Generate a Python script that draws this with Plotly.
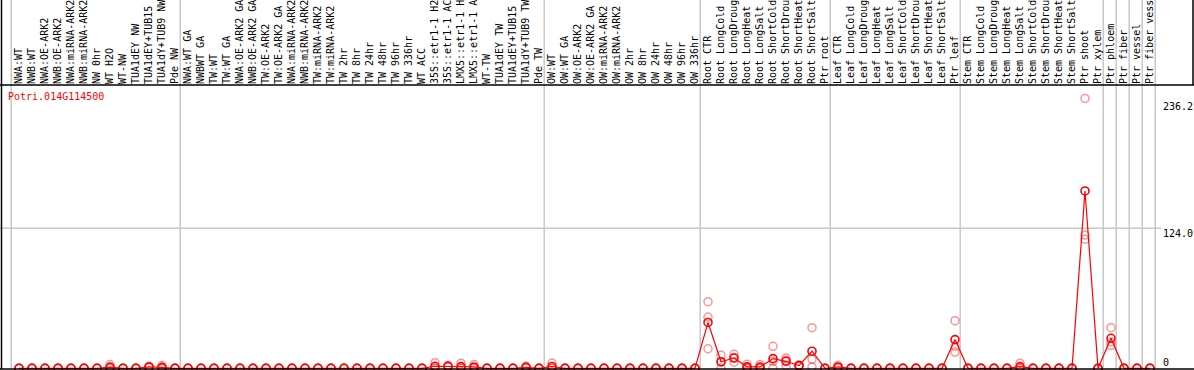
import plotly.graph_objects as go

categories = [
    "NWA:WT", "NWB:WT", "NWA:OE-ARK2", "NWB:OE-ARK2", "NWA:miRNA-ARK2", "NWB:miRNA-ARK2",
    "NW 0hr", "WT H2O", "WT-NW", "TUA1dEY NW", "TUA1dEY+TUB15 NW", "TUA1dY+TUB9 NW", "Pde NW",
    "NWA:WT GA", "NWBWT GA", "TW:WT", "TW:WT GA", "NWA:OE-ARK2 GA", "NWB:OE-ARK2 GA",
    "TW:OE-ARK2", "TW:OE-ARK2 GA", "NWA:miRNA-ARK2 GA", "NWB:miRNA-ARK2 GA", "TW:miRNA-ARK2",
    "TW:miRNA-ARK2 GA", "TW 2hr", "TW 8hr", "TW 24hr", "TW 48hr", "TW 96hr", "TW 336hr",
    "WT ACC", "35S::etr1-1 H2O", "35S::etr1-1 ACC", "LMX5::etr1-1 H2O", "LMX5::etr1-1 ACC",
    "WT-TW", "TUA1dEY TW", "TUA1dEY+TUB15 TW", "TUA1dY+TUB9 TW", "Pde TW",
    "OW:WT", "OW:WT GA", "OW:OE-ARK2", "OW:OE-ARK2 GA", "OW:miRNA-ARK2", "OW:miRNA-ARK2 GA",
    "OW 2hr", "OW 8hr", "OW 24hr", "OW 48hr", "OW 96hr", "OW 336hr",
    "Root CTR", "Root LongCold", "Root LongDrought", "Root LongHeat", "Root LongSalt",
    "Root ShortCold", "Root ShortDrought", "Root ShortHeat", "Root ShortSalt", "Ptr root",
    "Leaf CTR", "Leaf LongCold", "Leaf LongDrought", "Leaf LongHeat", "Leaf LongSalt",
    "Leaf ShortCold", "Leaf ShortDrought", "Leaf ShortHeat", "Leaf ShortSalt", "Ptr leaf",
    "Stem CTR", "Stem LongCold", "Stem LongDrought", "Stem LongHeat", "Stem LongSalt",
    "Stem ShortCold", "Stem ShortDrought", "Stem ShortHeat", "Stem ShortSalt",
    "Ptr shoot", "Ptr xylem", "Ptr phloem", "Ptr fiber", "Ptr vessel", "Ptr fiber vessel",
]

# mean expression
mean_values = [
    0, 0, 0, 0, 0, 0, 0, 1.1, 0, 0, 1.2, 0.8, 0,
    0, 0, 0, 0, 0, 0, 0, 0, 0, 0, 0, 0, 0, 0, 0, 0, 0, 0,
    0, 1.8, 1.8, 1.5, 1.2, 0, 0, 0, 0.9, 0,
    1.6, 0, 0, 0, 0, 0, 0, 0, 0, 0, 0, 0,
    40.6, 5.8, 9.1, 1.3, 1.2, 8.6, 6.2, 2.4, 15.1, 0,
    1.2, 0, 0, 0, 0, 0, 0, 0, 0, 25.4,
    0, 0, 0, 0, 1.5, 0, 0, 0, 0,
    157.1, 0, 26.6, 0, 0, 0,
]

# replicate values
rep1 = [
    0, 0, 0, 0, 0, 0, 0, 3.3, 0, 0, 1.8, 2.4, 0,
    0, 0, 0, 0, 0, 0, 0, 0, 0, 0, 0, 0, 0, 0, 0, 0, 0, 0,
    0, 5.0, 2.7, 4.5, 3.3, 0, 0, 0, 2.0, 0,
    4.7, 0, 0, 0, 0, 0, 0, 0, 0, 0, 0, 0,
    59.0, 11.5, 12.4, 3.6, 3.3, 19.5, 9.1, 3.0, 36.0, 0,
    2.7, 0, 0, 0, 0, 0, 0, 0, 0, 42.2,
    0, 0, 0, 0, 4.5, 0, 0, 0, 0,
    239.0, 0, 36.0, 0, 0, 0,
]
rep2 = [
    0, 0, 0, 0, 0, 0, 0, 0, 0, 0, 1.2, 0, 0,
    0, 0, 0, 0, 0, 0, 0, 0, 0, 0, 0, 0, 0, 0, 0, 0, 0, 0,
    0, 0.3, 1.6, 0, 0.3, 0, 0, 0, 0.6, 0,
    0, 0, 0, 0, 0, 0, 0, 0, 0, 0, 0, 0,
    45.4, 5.6, 9.5, 0.2, 0.3, 6.2, 7.2, 2.4, 8.0, 0,
    0.6, 0, 0, 0, 0, 0, 0, 0, 0, 19.5,
    0, 0, 0, 0, 0, 0, 0, 0, 0,
    118.0, 0, 23.3, 0, 0, 0,
]
rep3 = [
    0, 0, 0, 0, 0, 0, 0, 0, 0, 0, 0.6, 0, 0,
    0, 0, 0, 0, 0, 0, 0, 0, 0, 0, 0, 0, 0, 0, 0, 0, 0, 0,
    0, 0, 1.1, 0, 0, 0, 0, 0, 0, 0,
    0, 0, 0, 0, 0, 0, 0, 0, 0, 0, 0, 0,
    17.4, 0.2, 5.4, 0, 0, 0, 2.3, 1.8, 1.2, 0,
    0.3, 0, 0, 0, 0, 0, 0, 0, 0, 14.4,
    0, 0, 0, 0, 0, 0, 0, 0, 0,
    114.3, 0, 20.4, 0, 0, 0,
]

# index after which a group separator is drawn
group_ends = [-1, 12, 40, 52, 62, 72, 83, 84, 85, 86, 87]

y_ticks = [236.2, 124.0, 0]
y_tick_text = ["236.2", "124.0", "0"]
gene_name = "Potri.014G114500"

W, H = 1194, 370
ML, MR, MT, MB = 2, 38, 85, 1
PW = W - ML - MR
PH = H - MT - MB

x_idx = list(range(len(categories)))
FONT = "DejaVu Sans Mono"

fig = go.Figure()

fig.add_trace(go.Scatter(
    x=x_idx, y=mean_values, mode="lines",
    line=dict(color="#ff0000", width=1.2), hoverinfo="skip", cliponaxis=False,
))
for reps in (rep1, rep2, rep3):
    fig.add_trace(go.Scatter(
        x=x_idx, y=reps, mode="markers",
        marker=dict(symbol="circle-open", size=8, color="rgba(255,0,0,0.42)",
                    line=dict(width=1.5, color="rgba(255,0,0,0.42)")),
        cliponaxis=False,
    ))
fig.add_trace(go.Scatter(
    x=x_idx, y=mean_values, mode="markers",
    marker=dict(symbol="circle-open", size=8, color="#ff0000",
                line=dict(width=1.6, color="#ff0000")),
    cliponaxis=False,
))

shapes = []
# group separators (full height incl. header)
for g in group_ends:
    shapes.append(dict(type="line", xref="x", yref="paper", x0=g + 0.4, x1=g + 0.4,
                       y0=0, y1=1 + MT / PH + 0.01,
                       line=dict(color="#c8c8c8", width=1.5), layer="below"))
# gridline at 124
shapes.append(dict(type="line", xref="paper", yref="y", x0=-ML / PW, x1=(1161 - ML) / PW,
                   y0=124.0, y1=124.0, line=dict(color="#c8c8c8", width=1.5), layer="below"))
# header separator, bottom line, left border, header right border
shapes.append(dict(type="line", xref="paper", yref="paper", x0=-ML / PW, x1=(W - ML) / PW,
                   y0=1, y1=1, line=dict(color="black", width=1.5)))
shapes.append(dict(type="line", xref="paper", yref="paper", x0=-ML / PW, x1=(W - ML) / PW,
                   y0=0, y1=0, line=dict(color="black", width=1.5)))
shapes.append(dict(type="line", xref="paper", yref="paper", x0=(1.5 - ML) / PW, x1=(1.5 - ML) / PW,
                   y0=0, y1=1 + MT / PH, line=dict(color="black", width=1.5)))
shapes.append(dict(type="line", xref="paper", yref="paper", x0=(1193 - ML) / PW, x1=(1193 - ML) / PW,
                   y0=1, y1=1 + MT / PH, line=dict(color="black", width=1.5)))

annotations = [
    dict(text=gene_name, xref="paper", yref="paper", x=(6 - ML) / PW, y=1 - (97 - MT) / PH,
         xanchor="left", yanchor="middle", showarrow=False,
         font=dict(family=FONT, size=10, color="#ff0000")),
]
shifts = [-5, -5, 6]
for v, t, s in zip(y_ticks, y_tick_text, shifts):
    annotations.append(dict(text=t, xref="paper", yref="y", x=(1161 - ML) / PW, y=v,
                            xanchor="left", yanchor="middle", yshift=s, showarrow=False,
                            font=dict(family=FONT, size=10, color="black")))

fig.update_layout(
    width=W, height=H,
    margin=dict(l=ML, r=MR, t=MT, b=MB, pad=0, autoexpand=False),
    paper_bgcolor="white", plot_bgcolor="white",
    showlegend=False,
    shapes=shapes, annotations=annotations,
    xaxis=dict(
        range=[(ML - 19) / 13, (ML + PW - 19) / 13], automargin=False,
        side="top", tickmode="array", tickvals=x_idx, ticktext=categories,
        tickangle=-90, ticks="", showgrid=False, zeroline=False, showline=False,
        tickfont=dict(family=FONT, size=10, color="black"),
    ),
    yaxis=dict(
        range=[-0.62, 250.93], showticklabels=False, showgrid=False, automargin=False,
        zeroline=False, showline=False,
    ),
)

fig.write_html(
    "out.html",
    config={"displayModeBar": False},
    post_script="document.body.style.margin='0px';document.body.style.overflow='hidden';",
)
